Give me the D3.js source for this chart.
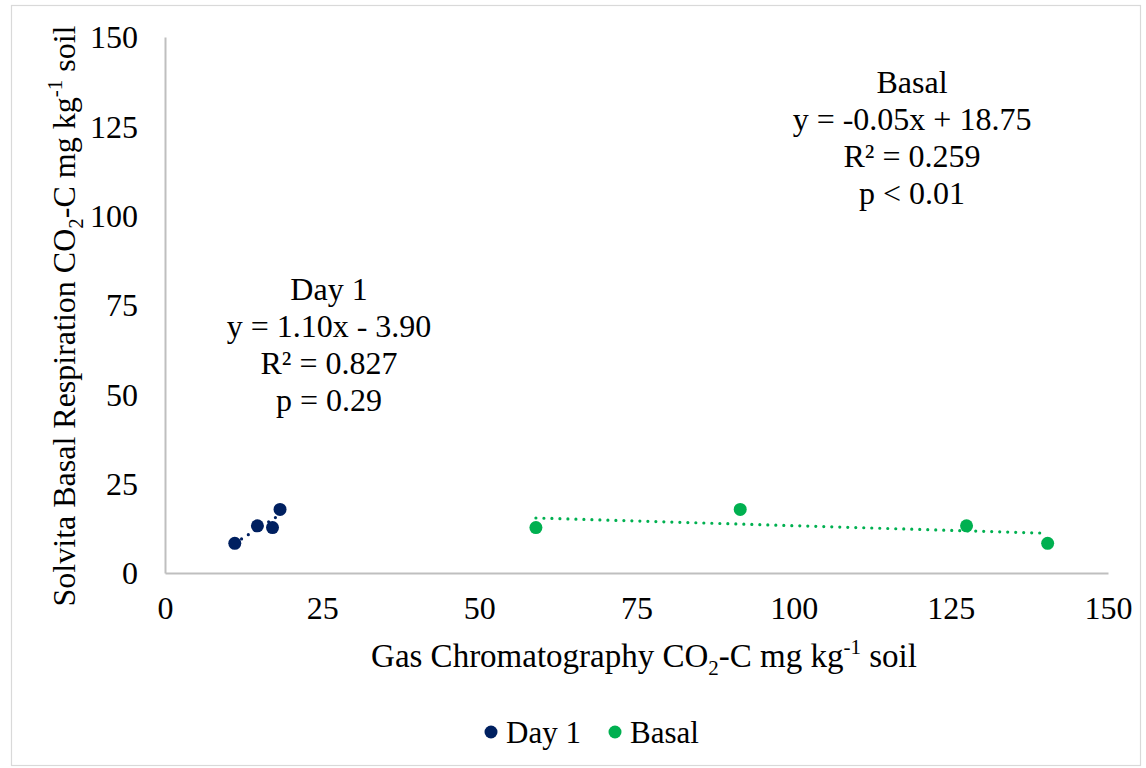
<!DOCTYPE html>
<head>
  <meta charset="UTF-8">
  <title>co2</title>
  <style>
  body, html, div, svg{
    padding: 0;
    margin: 0;
  }
  body{
    background: #fff;
  }
  text{
    font-family: "Liberation Serif", "Times New Roman", serif;
    fill: #000;
  }
  </style>
</head>
<body>
  <script src="https://cdn.jsdelivr.net/npm/d3@7"></script>
  <script type="text/javascript">
  var width = 1146;
  var height = 768;

  // data
  var day1X = [11.1, 14.7, 17.1, 18.3];
  var day1Y = [8.3, 13.2, 12.7, 17.8];
  var basalX = [59.0, 91.5, 127.5, 140.4];
  var basalY = [12.7, 17.8, 13.2, 8.3];
  var xTicks = [0, 25, 50, 75, 100, 125, 150];
  var yTicks = [0, 25, 50, 75, 100, 125, 150];
  var day1Note = ['Day 1', 'y = 1.10x - 3.90', 'R² = 0.827', 'p = 0.29'];
  var basalNote = ['Basal', 'y = -0.05x + 18.75', 'R² = 0.259', 'p < 0.01'];
  var seriesNames = ['Day 1', 'Basal'];
  var colors = ['#002060', '#00b050'];

  var svg = d3.select('body')
    .append('svg')
    .attr('width', width)
    .attr('height', height);

  svg.append('rect')
    .attr('x', 11.5).attr('y', 5.5)
    .attr('width', 1129).attr('height', 760)
    .attr('fill', '#fff')
    .attr('stroke', '#d9d9d9')
    .attr('stroke-width', 1.2);

  var x = d3.scaleLinear().domain([0, 150]).range([165, 1108]);
  var y = d3.scaleLinear().domain([0, 150]).range([573, 37]);

  // axes
  var xAxis = svg.append('g')
    .attr('transform', 'translate(0,' + y(0) + ')')
    .call(d3.axisBottom(x).tickValues(xTicks).tickSize(0).tickPadding(23));
  var yAxis = svg.append('g')
    .attr('transform', 'translate(' + x(0) + ',0)')
    .call(d3.axisLeft(y).tickValues(yTicks).tickSize(0).tickPadding(27));
  [xAxis, yAxis].forEach(function(g){
    g.select('.domain').attr('stroke', '#bfbfbf').attr('stroke-width', 2);
    g.selectAll('text')
      .style('font-family', '"Liberation Serif", serif')
      .style('font-size', '32px')
      .attr('fill', '#000');
  });
  xAxis.selectAll('text').attr('dy', '0.71em');
  yAxis.selectAll('text').attr('dy', '0.34em');

  // trendlines
  function fit(xs, ys){
    var mx = d3.mean(xs), my = d3.mean(ys);
    var sxy = d3.sum(xs, function(v, i){ return (v - mx) * (ys[i] - my); });
    var sxx = d3.sum(xs, function(v){ return (v - mx) * (v - mx); });
    var b = sxy / sxx;
    return [b, my - b * mx];
  }
  var line = d3.line().x(function(d){ return x(d[0]); }).y(function(d){ return y(d[1]); });
  [[day1X, day1Y], [basalX, basalY]].forEach(function(s, k){
    var f = fit(s[0], s[1]);
    var ext = d3.extent(s[0]);
    var pts = ext.map(function(v){ return [v, f[0] * v + f[1]]; });
    svg.append('path')
      .attr('d', line(pts))
      .attr('fill', 'none')
      .attr('stroke', colors[k])
      .attr('stroke-width', 3.2)
      .attr('stroke-linecap', 'round')
      .attr('stroke-dasharray', '0 8');
  });

  // points
  [[day1X, day1Y], [basalX, basalY]].forEach(function(s, k){
    svg.append('g')
      .selectAll('circle')
      .data(s[0])
      .enter()
      .append('circle')
      .attr('cx', function(d){ return x(d); })
      .attr('cy', function(d, i){ return y(s[1][i]); })
      .attr('r', 6.5)
      .attr('fill', colors[k]);
  });

  // annotations
  function note(lines, cx, top){
    var t = svg.append('text')
      .attr('text-anchor', 'middle')
      .style('font-size', '32px');
    lines.forEach(function(s, i){
      t.append('tspan').attr('x', cx).attr('y', top + i * 37).text(s);
    });
  }
  note(day1Note, 329, 300);
  note(basalNote, 912, 93);

  // axis titles
  function title(t, a, b){
    t.append('tspan').text(a + ' CO');
    t.append('tspan').attr('dy', 8).style('font-size', '21px').text('2');
    t.append('tspan').attr('dy', -8).text('-C mg kg');
    t.append('tspan').attr('dy', -13).style('font-size', '21px').text('-1');
    t.append('tspan').attr('dy', 13).text(b);
  }
  var xt = svg.append('text')
    .attr('x', 644).attr('y', 667)
    .attr('text-anchor', 'middle')
    .style('font-size', '33px');
  title(xt, 'Gas Chromatography', ' soil');

  var yt = svg.append('text')
    .attr('transform', 'translate(75,316) rotate(-90)')
    .attr('text-anchor', 'middle')
    .style('font-size', '32px');
  title(yt, 'Solvita Basal Respiration', ' soil');

  // legend
  var leg = svg.append('g');
  var lx = [491, 615];
  seriesNames.forEach(function(n, k){
    leg.append('circle')
      .attr('cx', lx[k]).attr('cy', 732)
      .attr('r', 6.5)
      .attr('fill', colors[k]);
    leg.append('text')
      .attr('x', lx[k] + 15).attr('y', 743)
      .style('font-size', '31px')
      .text(n);
  });
  </script>
</body>
</html>
